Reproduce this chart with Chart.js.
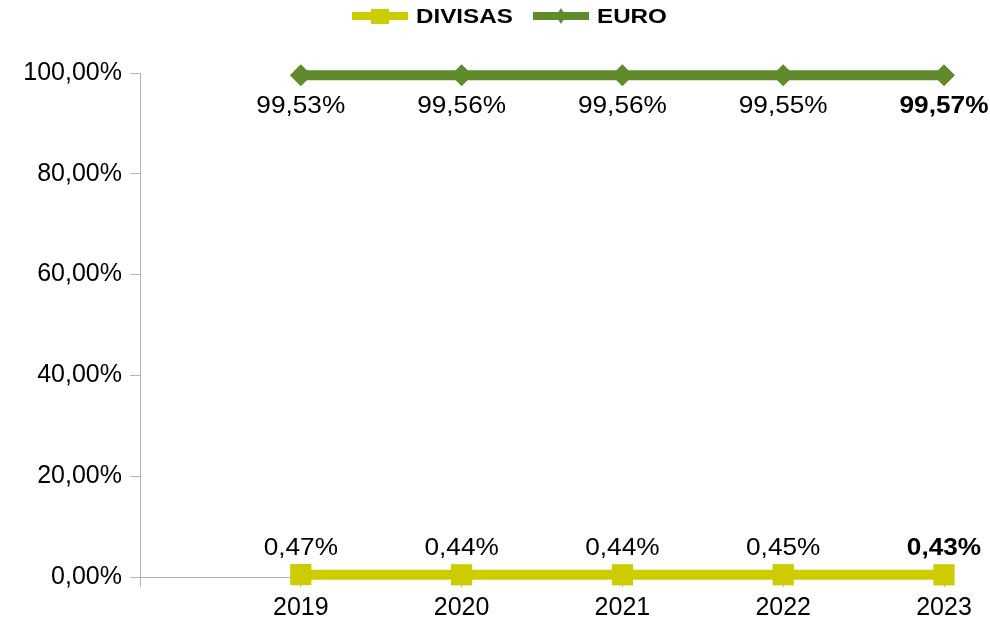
<!DOCTYPE html>
<html>
<head>
<meta charset="utf-8">
<script src="https://cdn.jsdelivr.net/npm/chart.js@4/dist/chart.umd.min.js"></script>
<style>
html,body{margin:0;padding:0;background:#fff;}
#wrap{width:990px;height:619px;position:relative;}
</style>
</head>
<body>
<div id="wrap"><canvas id="c" width="990" height="619"></canvas></div>
<script>
const categories = ['', '2019', '2020', '2021', '2022', '2023'];
const divisas = [null, 0.47, 0.44, 0.44, 0.45, 0.43];
const euro = [null, 99.53, 99.56, 99.56, 99.55, 99.57];
const seriesNames = ['DIVISAS', 'EURO'];
const yTicks = [0, 20, 40, 60, 80, 100];

const YELLOW = '#cccc00';
const GREEN = '#5f8b2c';
const FONT = '"Liberation Sans", Arial, sans-serif';

function fmt(v){ return v.toFixed(2).replace('.', ',') + '%'; }

function stretchedText(ctx, text, x, y, sx){
  ctx.save();
  ctx.translate(x, y);
  ctx.scale(sx, 1);
  ctx.fillText(text, 0, 0);
  ctx.restore();
}

const labelPlugin = {
  id: 'labels',
  afterDatasetsDraw(chart){
    const ctx = chart.ctx;
    ctx.save();
    ctx.textAlign = 'center';
    ctx.textBaseline = 'middle';
    ctx.fillStyle = '#000';
    chart.data.datasets.forEach((ds, di) => {
      const meta = chart.getDatasetMeta(di);
      meta.data.forEach((pt, i) => {
        const v = ds.data[i];
        if (v === null) return;
        const last = i === ds.data.length - 1;
        ctx.font = (last ? 'bold ' : '') + '23px ' + FONT;
        const dy = di === 1 ? 31 : -26;
        stretchedText(ctx, fmt(v), pt.x, pt.y + dy, 1.14);
      });
    });
    ctx.restore();
  }
};

const legendPlugin = {
  id: 'customLegend',
  afterDraw(chart){
    const ctx = chart.ctx;
    ctx.save();
    const y = 16;
    const items = [
      {name: seriesNames[0], color: YELLOW, x0: 352, shape: 'rect'},
      {name: seriesNames[1], color: GREEN, x0: 533, shape: 'diamond'}
    ];
    items.forEach(it => {
      ctx.fillStyle = it.color;
      ctx.fillRect(it.x0, y - 4, 56, 8);
      const cx = it.x0 + 28;
      if (it.shape === 'rect') {
        ctx.fillRect(cx - 9, y - 7, 18, 15);
      } else {
        ctx.beginPath();
        ctx.moveTo(cx, y - 8); ctx.lineTo(cx + 5, y); ctx.lineTo(cx, y + 8); ctx.lineTo(cx - 5, y);
        ctx.closePath(); ctx.fill();
      }
      ctx.fillStyle = '#000';
      ctx.font = 'bold 20px ' + FONT;
      ctx.textAlign = 'left';
      ctx.textBaseline = 'middle';
      stretchedText(ctx, it.name, it.x0 + 64, y + 1, 1.21);
    });
    ctx.restore();
  }
};

new Chart(document.getElementById('c'), {
  type: 'line',
  data: {
    labels: categories,
    datasets: [
      {
        label: seriesNames[0], data: divisas,
        borderColor: YELLOW, backgroundColor: YELLOW,
        borderWidth: 10, pointStyle: 'rect', pointRadius: 15, pointHoverRadius: 15,
        pointBorderWidth: 0, tension: 0, clip: false
      },
      {
        label: seriesNames[1], data: euro,
        borderColor: GREEN, backgroundColor: GREEN,
        borderWidth: 10, pointStyle: 'rectRot', pointRadius: 11, pointHoverRadius: 11,
        pointBorderWidth: 0, tension: 0, clip: false
      }
    ]
  },
  options: {
    responsive: false,
    animation: false,
    events: [],
    layout: {padding: {top: 73, right: 46, left: 0, bottom: 0}},
    plugins: {legend: {display: false}, tooltip: {enabled: false}},
    scales: {
      x: {
        offset: false,
        grid: {display: true, drawOnChartArea: false, drawTicks: true, tickLength: 10, color: '#b3b3b3', lineWidth: 1},
        border: {display: true, color: '#b3b3b3', width: 1},
        ticks: {color: '#000', font: {family: FONT, size: 25}, padding: 6, maxRotation: 0, autoSkip: false},
        afterFit(s){ s.height = 42; }
      },
      y: {
        min: 0, max: 100,
        afterBuildTicks(s){ s.ticks = yTicks.map(v => ({value: v})); },
        grid: {display: true, drawOnChartArea: false, drawTicks: true, tickLength: 10, color: '#b3b3b3', lineWidth: 1},
        border: {display: true, color: '#b3b3b3', width: 1},
        ticks: {color: '#000', font: {family: FONT, size: 25}, padding: 8, callback: v => fmt(v)},
        afterFit(s){ s.width = 140; }
      }
    }
  },
  plugins: [labelPlugin, legendPlugin]
});
</script>
</body>
</html>
